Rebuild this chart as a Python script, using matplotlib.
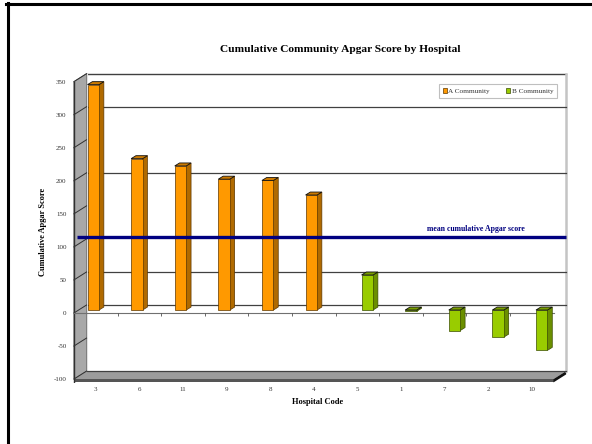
import matplotlib
matplotlib.use('Agg')
import matplotlib.pyplot as plt
from matplotlib.patches import Polygon
from matplotlib.lines import Line2D

# ---------------- data ----------------
hospitals = ['3', '6', '11', '9', '8', '4', '5', '1', '7', '2', '10']
community = ['A', 'A', 'A', 'A', 'A', 'A', 'B', 'B', 'B', 'B', 'B']
scores = [341, 229, 218, 198, 196, 174, 53, -2, -31, -41, -61]
series_names = ['A Community', 'B Community']
mean_score = 114.5
mean_label = 'mean cumulative Apgar score'
y_ticks = [-100, -50, 0, 50, 100, 150, 200, 250, 300, 350]
grid_values = [0, 50, 200, 300]
title = 'Cumulative Community Apgar Score by Hospital'
x_label = 'Hospital Code'
y_label = 'Cumulative Apgar Score'

# ---------------- style ----------------
SERIF = ['Liberation Serif', 'DejaVu Serif']
plt.rcParams['font.family'] = SERIF
plt.rcParams['axes.unicode_minus'] = False
colors = {
    'A': dict(front='#FF9900', side='#B06A00', top='#CC7A00', edge='#5C3700'),
    'B': dict(front='#99CC00', side='#6B8F00', top='#7A9F00', edge='#3A4D00'),
}
W, H = 592, 444
fig = plt.figure(figsize=(W / 100, H / 100), dpi=100)
fig.patch.set_facecolor('white')

# axes placed in pixel space (left 70, right 580, top 60, bottom 383)
ax_l, ax_r, ax_t, ax_b = 70, 580, 60, 383
ax = fig.add_axes([ax_l / W, (H - ax_b) / H, (ax_r - ax_l) / W, (ax_b - ax_t) / H])
px_per_cat, x0_px = 43.6, 95.7
px_per_unit, y0_px = 0.661, 313
ax.set_xlim((ax_l - x0_px) / px_per_cat, (ax_r - x0_px) / px_per_cat)
ax.set_ylim((y0_px - ax_b) / px_per_unit, (y0_px - ax_t) / px_per_unit)
for s in ax.spines.values():
    s.set_visible(False)
ax.set_facecolor('none')

ymin, ymax = y_ticks[0], y_ticks[-1]
n = len(hospitals)
xl, xr = -0.5, n - 0.5          # front plane extent
ddx, ddv = 0.29, 12.1           # depth of walls
bar_base = 4.5                  # bar plane offset
bw = 0.264                      # bar width
bdx, bdv = 0.11, 4.5            # bar depth
offs = {'A': -0.055, 'B': 0.23}

# ---- walls & floor ----
ax.add_patch(Polygon([(xl, ymin), (xl, ymax), (xl + ddx, ymax + ddv), (xl + ddx, ymin + ddv)],
                     closed=True, facecolor='#A8A8A8', edgecolor='#6A6A6A', lw=0.6, zorder=1))
ax.plot([xl, xl], [ymin - 6, ymax], color='#303030', lw=1.0, zorder=2)
ax.plot([xl + ddx, xl + ddx], [ymin + ddv, ymax + ddv], color='#E0E0E0', lw=0.8, zorder=2)
# floor top surface
ax.add_patch(Polygon([(xl, ymin), (xr, ymin), (xr + ddx, ymin + ddv), (xl + ddx, ymin + ddv)],
                     closed=True, facecolor='#9C9C9C', edgecolor='none', zorder=1))
ax.plot([xl + ddx, xr + ddx], [ymin + ddv, ymin + ddv], color='#404040', lw=0.9, zorder=2)
# floor front face
ax.add_patch(Polygon([(xl, ymin), (xr, ymin), (xr, ymin - 5), (xl, ymin - 5)],
                     closed=True, facecolor='#555555', edgecolor='none', zorder=1))
ax.add_patch(Polygon([(xr, ymin), (xr + ddx, ymin + ddv), (xr + ddx, ymin + ddv - 5), (xr, ymin - 5)],
                     closed=True, facecolor='#111111', edgecolor='none', zorder=1))
# back wall top edge and right edge
ax.plot([xl + ddx, xr + ddx], [ymax + ddv, ymax + ddv], color='#404040', lw=1.0, zorder=1)
ax.plot([xr + ddx, xr + ddx], [ymin + ddv, ymax + ddv], color='#C4C4C4', lw=1.8, zorder=1)

# wall ticks (slanted) and back gridlines
for v in y_ticks:
    ax.plot([xl, xl + ddx], [v, v + ddv], color='#303030', lw=0.7, zorder=2)
for v in grid_values:
    ax.plot([xl + ddx, xr + ddx], [v + ddv, v + ddv], color='#404040', lw=0.9, zorder=1)

# front zero axis with category tick marks
ax.plot([xl, xr], [0, 0], color='#707070', lw=0.8, zorder=2)
ax.vlines([k + 0.5 for k in range(n - 1)], -4, 0, color='#505050', lw=0.6, zorder=2)

# ---- bars ----
handles = {}
for key, name in zip(['A', 'B'], series_names):
    idx = [i for i in range(n) if community[i] == key]
    xs = [i + offs[key] for i in idx]
    vals = [scores[i] for i in idx]
    c = colors[key]
    bars = ax.bar(xs, vals, width=bw, bottom=bar_base, color=c['front'],
                  edgecolor=c['edge'], lw=0.5, zorder=4, label=name)
    handles[key] = bars
    for x, v in zip(xs, vals):
        x0b, x1b = x - bw / 2, x + bw / 2
        lo, hi = bar_base + min(v, 0), bar_base + max(v, 0)
        ax.add_patch(Polygon([(x1b, lo), (x1b, hi), (x1b + bdx, hi + bdv), (x1b + bdx, lo + bdv)],
                             closed=True, facecolor=c['side'], edgecolor=c['edge'], lw=0.5, zorder=3))
        ax.add_patch(Polygon([(x0b, hi), (x1b, hi), (x1b + bdx, hi + bdv), (x0b + bdx, hi + bdv)],
                             closed=True, facecolor=c['top'], edgecolor='#111111', lw=0.6, zorder=5))

# ---- mean line ----
ax.plot([-0.436, xr + ddx], [mean_score, mean_score], color='#000080', lw=2.4,
        solid_capstyle='butt', zorder=8)
ax.text(8.73, mean_score + 12.6, mean_label, ha='center', va='center', fontsize=5.6,
        fontweight='bold', color='#000080', zorder=9)

# ---- ticks ----
ax.set_xticks(range(n))
ax.set_xticklabels(hospitals)
ax.set_yticks(y_ticks)
ax.set_yticklabels([str(v) for v in y_ticks])
ax.tick_params(axis='both', length=0, labelsize=5, colors='#333333')
ax.tick_params(axis='y', pad=2.5)
ax.tick_params(axis='x', pad=3)

# ---- legend ----
leg = ax.legend(handles=[handles['A'], handles['B']], labels=series_names, loc='center',
                bbox_to_anchor=((498 - ax_l) / (ax_r - ax_l), (ax_b - 91) / (ax_b - ax_t)),
                ncol=2, fontsize=5.2, frameon=True, fancybox=False, edgecolor='#B0B0B0',
                handlelength=0.6, handleheight=0.6, handletextpad=0.2, columnspacing=2.2,
                borderpad=0.5, borderaxespad=0)
leg.get_frame().set_linewidth(0.8)
for t in leg.get_texts():
    t.set_color('#333333')

# ---- titles ----
fig.text(340.5 / W, 1 - 49 / H, title, ha='center', va='center', fontsize=8.2, fontweight='bold')
fig.text(43 / W, 1 - 231.5 / H, y_label, ha='center', va='center', rotation=90,
         fontsize=6, fontweight='bold')
fig.text(318 / W, 1 - 401.7 / H, x_label, ha='center', va='center', fontsize=6, fontweight='bold')

# ---- outer border (top and left) ----
fig.add_artist(Line2D([7.5 / W, 7.5 / W], [0, 1 - 3 / H], transform=fig.transFigure,
                      color='black', lw=2.2))
fig.add_artist(Line2D([6 / W, 1], [1 - 4.5 / H, 1 - 4.5 / H], transform=fig.transFigure,
                      color='black', lw=2.2))

fig.savefig('out.png', dpi=100)
